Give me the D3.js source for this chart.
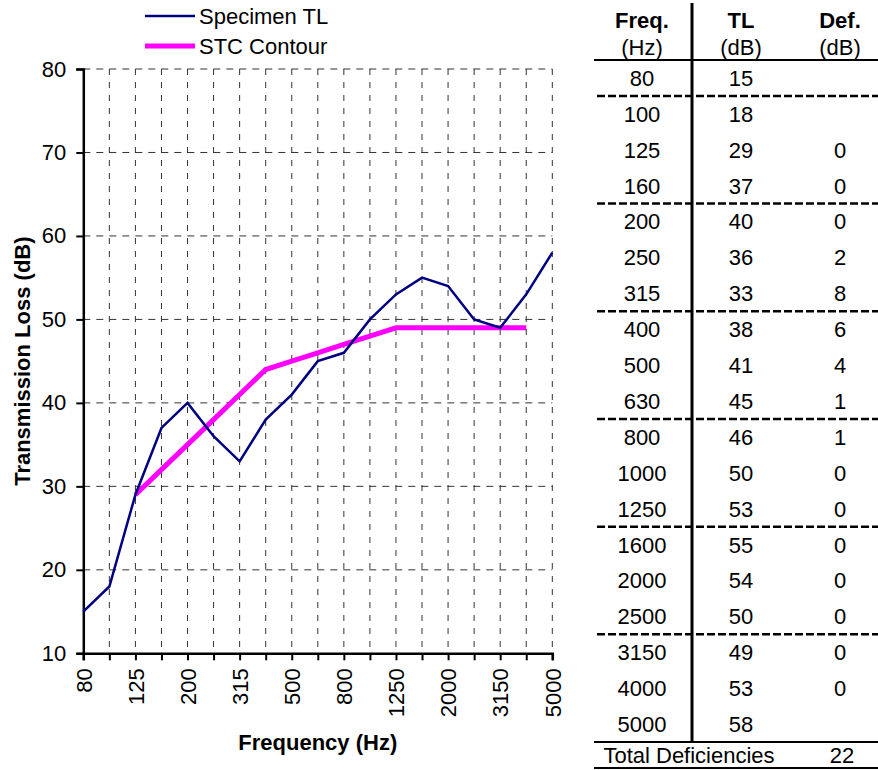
<!DOCTYPE html>
<html>
<head>
<meta charset="utf-8">
<script src="https://cdn.jsdelivr.net/npm/d3@7"></script>
<style>
  body { margin: 0; background: #fff; }
  text { font-family: "Liberation Sans", Arial, sans-serif; }
</style>
</head>
<body>
<div id="chart"></div>
<script>
// data
const freqs = ["80", "100", "125", "160", "200", "250", "315", "400", "500", "630",
  "800", "1000", "1250", "1600", "2000", "2500", "3150", "4000", "5000"];
const specimenTL = [15, 18, 29, 37, 40, 36, 33, 38, 41, 45, 46, 50, 53, 55, 54, 50, 49, 53, 58];
const stcFreqs = ["125", "160", "200", "250", "315", "400", "500", "630", "800", "1000",
  "1250", "1600", "2000", "2500", "3150", "4000"];
const stcContour = [29, 32, 35, 38, 41, 44, 45, 46, 47, 48, 49, 49, 49, 49, 49, 49];
const deficiencies = ["", "", "0", "0", "0", "2", "8", "6", "4", "1", "1", "0", "0", "0", "0", "0", "0", "0", ""];
const xTickLabels = ["80", "125", "200", "315", "500", "800", "1250", "2000", "3150", "5000"];
const yTicks = [10, 20, 30, 40, 50, 60, 70, 80];
const totalDef = 22;

const W = 878, H = 770;
const fs = 22;
const plot = { left: 83.3, right: 552.3, top: 69, bottom: 653.3 };

const svg = d3.select("#chart").append("svg")
  .attr("width", W)
  .attr("height", H);

const x = d3.scalePoint().domain(freqs).range([plot.left, plot.right]);
const y = d3.scaleLinear().domain([10, 80]).range([plot.bottom, plot.top]);

// grid
svg.append("g")
  .selectAll("line")
  .data(yTicks.slice(1))
  .join("line")
  .attr("x1", plot.left)
  .attr("x2", plot.right)
  .attr("y1", (d) => y(d))
  .attr("y2", (d) => y(d))
  .attr("stroke", "#333")
  .attr("stroke-width", 1)
  .attr("stroke-dasharray", "7,6");

svg.append("g")
  .selectAll("line")
  .data(freqs.slice(1))
  .join("line")
  .attr("x1", (d) => x(d))
  .attr("x2", (d) => x(d))
  .attr("y1", plot.top)
  .attr("y2", plot.bottom)
  .attr("stroke", "#333")
  .attr("stroke-width", 1)
  .attr("stroke-dasharray", "6,7");

// axes
const yAxis = svg.append("g")
  .attr("transform", "translate(" + plot.left + ",0)")
  .call(d3.axisLeft(y).tickValues(yTicks).tickSize(7).tickPadding(10).tickFormat(d3.format("d")));
yAxis.select(".domain").attr("stroke-width", 2.5);
yAxis.selectAll(".tick line").attr("stroke-width", 2);
yAxis.selectAll("text")
  .attr("font-size", fs)
  .attr("font-family", "Liberation Sans, Arial, sans-serif")
  .attr("fill", "#000");

const xAxis = svg.append("g")
  .attr("transform", "translate(0," + plot.bottom + ")")
  .call(d3.axisBottom(x).tickSize(7).tickFormat((d) => xTickLabels.includes(d) ? d : ""));
xAxis.select(".domain").attr("stroke-width", 2.5);
xAxis.selectAll(".tick line").attr("stroke-width", 2);
xAxis.selectAll("text")
  .attr("font-size", fs)
  .attr("font-family", "Liberation Sans, Arial, sans-serif")
  .attr("fill", "#000")
  .attr("text-anchor", "end")
  .attr("transform", "rotate(-90)")
  .attr("x", -15)
  .attr("y", 0)
  .attr("dy", "0.35em");

// titles
svg.append("text")
  .attr("x", (plot.left + plot.right) / 2)
  .attr("y", 750)
  .attr("text-anchor", "middle")
  .attr("font-size", fs)
  .attr("font-weight", "bold")
  .text("Frequency (Hz)");

svg.append("text")
  .attr("transform", "translate(30," + (plot.top + plot.bottom) / 2 + ") rotate(-90)")
  .attr("text-anchor", "middle")
  .attr("font-size", fs)
  .attr("font-weight", "bold")
  .text("Transmission Loss (dB)");

// lines
const line = d3.line().x((d) => x(d[0])).y((d) => y(d[1]));

svg.append("path")
  .datum(stcFreqs.map((f, i) => [f, stcContour[i]]))
  .attr("d", line)
  .attr("fill", "none")
  .attr("stroke", "#ff00ff")
  .attr("stroke-width", 5);

svg.append("path")
  .datum(freqs.map((f, i) => [f, specimenTL[i]]))
  .attr("d", line)
  .attr("fill", "none")
  .attr("stroke", "#000080")
  .attr("stroke-width", 2.5);

// legend
const legend = [
  { name: "Specimen TL", color: "#000080", w: 2.5, y: 16 },
  { name: "STC Contour", color: "#ff00ff", w: 5, y: 46 },
];
const lg = svg.append("g").selectAll("g").data(legend).join("g");
lg.append("line")
  .attr("x1", 145).attr("x2", 195)
  .attr("y1", (d) => d.y).attr("y2", (d) => d.y)
  .attr("stroke", (d) => d.color)
  .attr("stroke-width", (d) => d.w);
lg.append("text")
  .attr("x", 199)
  .attr("y", (d) => d.y)
  .attr("dy", "0.35em")
  .attr("font-size", fs)
  .text((d) => d.name);

// table
const col = { freq: 642, tl: 741, def: 840 };
const tTop = 60, tBottom = 742, rowH = (tBottom - tTop) / freqs.length;
const table = svg.append("g");

table.append("line")
  .attr("x1", 692).attr("x2", 692)
  .attr("y1", 3).attr("y2", tBottom)
  .attr("stroke", "#000").attr("stroke-width", 3);

const headers = [
  { x: col.freq, a: "Freq.", b: "(Hz)" },
  { x: col.tl, a: "TL", b: "(dB)" },
  { x: col.def, a: "Def.", b: "(dB)" },
];
table.selectAll(".h1").data(headers).join("text")
  .attr("x", (d) => d.x).attr("y", 28)
  .attr("text-anchor", "middle")
  .attr("font-size", fs)
  .attr("font-weight", "bold")
  .text((d) => d.a);
table.selectAll(".h2").data(headers).join("text")
  .attr("class", "h2")
  .attr("x", (d) => d.x).attr("y", 55)
  .attr("text-anchor", "middle")
  .attr("font-size", fs)
  .text((d) => d.b);

[tTop, tBottom, 768].forEach((yy) => {
  table.append("line")
    .attr("x1", 594).attr("x2", W)
    .attr("y1", yy).attr("y2", yy)
    .attr("stroke", "#000").attr("stroke-width", 2);
});

// dashed separators every third-octave group
[1, 4, 7, 10, 13, 16].forEach((i) => {
  table.append("line")
    .attr("x1", 597).attr("x2", W)
    .attr("y1", tTop + i * rowH).attr("y2", tTop + i * rowH)
    .attr("stroke", "#000").attr("stroke-width", 2.5)
    .attr("stroke-dasharray", "8,3");
});

const rows = table.selectAll(".row")
  .data(freqs.map((f, i) => ({ f: f, tl: specimenTL[i], def: deficiencies[i], i: i })))
  .join("g")
  .attr("transform", (d) => "translate(0," + (tTop + (d.i + 0.5) * rowH) + ")");
[["f", col.freq], ["tl", col.tl], ["def", col.def]].forEach(([k, cx]) => {
  rows.append("text")
    .attr("x", cx)
    .attr("dy", "0.36em")
    .attr("text-anchor", "middle")
    .attr("font-size", fs)
    .text((d) => d[k]);
});

table.append("text")
  .attr("x", 689).attr("y", 755).attr("dy", "0.36em")
  .attr("text-anchor", "middle")
  .attr("font-size", fs)
  .text("Total Deficiencies");
table.append("text")
  .attr("x", 842).attr("y", 755).attr("dy", "0.36em")
  .attr("text-anchor", "middle")
  .attr("font-size", fs)
  .text(totalDef);
</script>
</body>
</html>
